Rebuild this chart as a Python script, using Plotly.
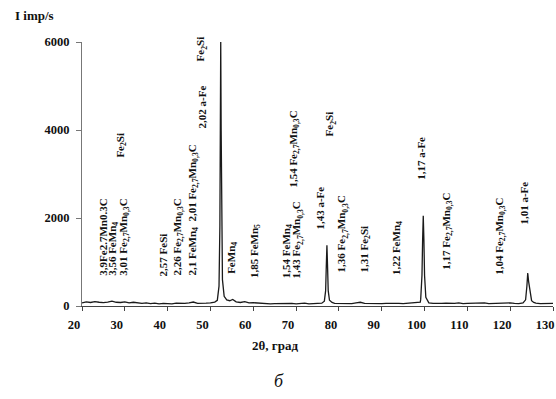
import plotly.graph_objects as go

# 2theta (deg) and intensity (imp/s)
two_theta = [20, 21, 22, 23, 24, 25, 26, 27, 28, 29, 30, 31, 32, 33, 34, 35, 36, 37, 38, 39,
             40, 41, 42, 43, 44, 45, 46, 47, 48, 49, 50, 51,
             51.6, 52.0, 52.2, 52.3, 52.4, 52.5, 52.6, 52.8, 53.2, 53.8, 54.5, 55.2, 56,
             57, 58, 59, 60, 61, 62, 63, 64, 65, 66, 67, 68, 69, 70, 71, 72, 73, 74, 75, 76,
             76.6, 76.9, 77.05, 77.2, 77.35, 77.5, 77.8, 78.4,
             79, 80, 81, 82, 83, 84, 85, 86, 87, 88, 89, 90, 91, 92, 93, 94, 95, 96, 97, 98, 99,
             99.1, 99.4, 99.55, 99.7, 99.85, 100.0, 100.3, 100.8,
             101, 102, 103, 104, 105, 106, 107, 108, 109, 110, 111, 112, 113, 114, 115, 116,
             117, 118, 119, 120, 121, 122, 123,
             123.6, 123.9, 124.1, 124.3, 124.5, 124.7, 125.0, 125.5,
             126, 127, 128, 129, 130]
intensity = [70, 95, 80, 100, 85, 75, 90, 110, 85, 80, 95, 70, 85, 75, 60, 70, 55, 65, 50, 60,
             55, 50, 65, 55, 60, 70, 90, 60, 55, 65, 70, 90,
             130, 450, 1800, 4000, 6000, 4000, 1900, 600, 220, 140, 120, 150, 95,
             80, 100, 70, 75, 65, 55, 60, 50, 55, 60, 50, 55, 60, 50, 55, 65, 50, 55, 60, 65,
             110, 350, 900, 1380, 900, 350, 130, 80,
             60, 55, 65, 60, 55, 70, 85, 60, 55, 65, 60, 55, 60, 65, 55, 60, 55, 65, 60, 70, 90,
             150, 700, 1500, 2050, 1500, 700, 200, 90,
             70, 60, 55, 60, 65, 55, 60, 70, 55, 60, 65, 55, 60, 70, 55, 60,
             65, 55, 60, 70, 60, 55, 70,
             140, 450, 750, 560, 400, 250, 120, 80,
             65, 55, 60, 55, 60]

x_ticks = [20, 30, 40, 50, 60, 70, 80, 90, 100, 110, 120, 130]
y_ticks = [0, 2000, 4000, 6000]

FM = "Fe<sub>2,7</sub>Mn<sub>0,3</sub>C"
peak_labels = [
    "3,9Fe2.7Mn0.3C", "3,56 FeMn<sub>4</sub>", "3,01 " + FM, "Fe<sub>2</sub>Si",
    "2,57 FeSi", "2,26 " + FM, "2,1 FeMn<sub>4</sub>  2,01 " + FM, "2,02 a-Fe",
    "Fe<sub>2</sub>Si", "FeMn<sub>4</sub>", "1,85 FeMn<sub>5</sub>", "1,54 FeMn<sub>4</sub>",
    "1,43 " + FM, "1,54 " + FM, "1,43 a-Fe", "Fe<sub>2</sub>Si",
    "1,36 " + FM, "1,31 Fe<sub>2</sub>Si", "1,22 FeMn<sub>4</sub>", "1,17 a-Fe",
    "1,17 " + FM, "1,04 " + FM, "1,01 a-Fe",
]
# label placement (2theta, intensity at the lower end of the rotated text)
label_x = [24.7, 27.2, 29.6, 28.9, 38.9, 42.2, 45.7, 48.0, 48.0, 55.0, 60.4, 67.9,
           70.2, 69.3, 75.6, 77.9, 80.7, 86.1, 93.6, 99.0, 105.3, 117.7, 123.0]
label_y = [636, 636, 636, 3318, 636, 636, 636, 4000, 5523, 682, 590, 590,
           590, 2636, 1682, 3818, 727, 705, 660, 2818, 773, 660, 1795]

fig = go.Figure()
fig.add_trace(go.Scatter(x=two_theta, y=intensity, mode="lines",
                         line=dict(color="#1a1a1a", width=1.3), hoverinfo="skip"))

serif = "Liberation Serif"
anns = []
for t, xx, yy in zip(peak_labels, label_x, label_y):
    anns.append(dict(x=xx, y=yy, xref="x", yref="y", text=t, textangle=-90,
                     showarrow=False, xanchor="center", yanchor="bottom",
                     font=dict(family=serif, size=11, color="#111", weight="bold")))
anns.append(dict(x=-0.1465, y=1.102, xref="paper", yref="paper", text="I imp/s",
                 showarrow=False, xanchor="left", yanchor="middle",
                 font=dict(family=serif, size=13, color="#111", weight="bold")))
anns.append(dict(x=0.41, y=-0.1515, xref="paper", yref="paper", text="2θ, град",
                 showarrow=False, xanchor="center", yanchor="middle",
                 font=dict(family=serif, size=13, color="#111", weight="bold")))
anns.append(dict(x=0.418, y=-0.284, xref="paper", yref="paper", text="<i>б</i>",
                 showarrow=False, xanchor="center", yanchor="middle",
                 font=dict(family=serif, size=18, color="#111")))

fig.update_layout(
    width=556, height=399,
    margin=dict(l=82, r=3, t=42, b=93),
    paper_bgcolor="white", plot_bgcolor="white",
    showlegend=False,
    annotations=anns,
    xaxis=dict(range=[20, 130], tickvals=x_ticks, ticktext=[str(v) for v in x_ticks],
               showgrid=False, zeroline=False, showline=True, linecolor="#444", linewidth=1,
               ticks="outside", ticklen=4, tickcolor="#444", ticklabelshift=-8,
               ticklabelstandoff=3, ticklabeloverflow="allow",
               tickfont=dict(family=serif, size=12.5, color="#111", weight="bold")),
    yaxis=dict(range=[0, 6000], tickvals=y_ticks, ticktext=[str(v) for v in y_ticks],
               showgrid=False, zeroline=False, showline=True, linecolor="#777", linewidth=1,
               ticks="outside", ticklen=5, tickcolor="#777", ticklabelstandoff=4,
               tickfont=dict(family=serif, size=12.5, color="#111", weight="bold")),
)
# remove the default page margin so the 556x399 figure fills the window exactly
page_fix = ("document.body.style.margin='0';"
            "document.documentElement.style.overflow='hidden';")
fig.write_html("out.html", post_script=page_fix, config={"displayModeBar": False})
